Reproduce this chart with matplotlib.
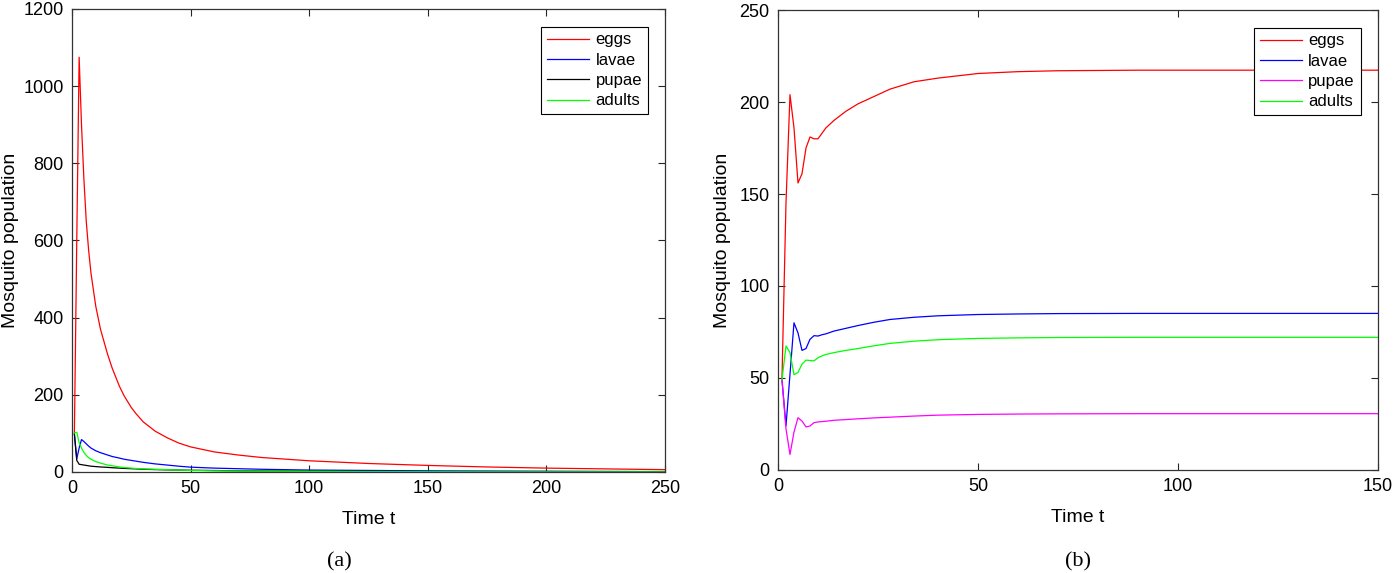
import matplotlib.pyplot as plt

plt.rcParams['font.family'] = ['Liberation Sans', 'DejaVu Sans']

# (a) population over 250 days
t_a = [1, 2, 3, 4, 5, 6, 7, 8, 10, 12, 15, 17, 20, 22, 25, 27, 30, 35, 40, 45, 50, 60, 70, 80, 100, 125, 150, 175, 200, 225, 250]
eggs_a = [100, 600, 1075, 900, 760, 650, 575, 515, 430, 370, 305, 268, 222, 197, 167, 151, 130, 106, 89, 75, 65, 52, 44, 37.5, 29, 22, 17, 13, 10, 8, 6]
lavae_a = [98, 34, 62, 84, 79, 73, 67, 62, 55, 50, 44, 40, 36, 33, 30, 28, 25, 21, 18, 15, 12.5, 10, 8.5, 7, 5, 4, 3, 2.5, 2, 1.5, 1]
pupae_a = [98, 30, 20, 19, 18, 17, 16, 15, 14, 13, 12, 11, 10, 9.3, 8.5, 8, 7, 6.2, 5.5, 5, 4.5, 3.8, 3, 2.6, 2, 1.5, 1, 0.8, 0.6, 0.5, 0.4]
adults_a = [101, 103, 76, 62, 51, 43, 37, 33, 27, 23, 18, 16, 13, 11.5, 10, 9, 8, 7, 6, 5, 4, 3, 2.5, 2, 1.5, 1, 0.8, 0.6, 0.5, 0.4, 0.3]

# (b) population over 150 days
t_b = [1, 2, 3, 4, 5, 6, 7, 8, 9, 10, 11, 12, 14, 17, 20, 24, 28, 34, 40, 50, 60, 70, 90, 110, 150]
eggs_b = [50, 145, 204, 186, 156, 161, 175, 181, 180, 180, 183, 186, 190, 195, 199, 203, 207, 211, 213, 215.5, 216.5, 217, 217.3, 217.3, 217.3]
lavae_b = [49, 24, 52, 80, 74.5, 65, 66, 71, 73, 72.8, 73.5, 74, 75.5, 77, 78.5, 80.3, 81.8, 83, 83.8, 84.5, 84.8, 85, 85.1, 85.1, 85.1]
pupae_b = [49, 22.4, 8.4, 20.6, 28.4, 26.6, 23.4, 23.9, 25.7, 26.1, 26.3, 26.5, 27, 27.4, 27.8, 28.3, 28.7, 29.3, 29.8, 30.2, 30.4, 30.5, 30.6, 30.6, 30.6]
adults_b = [49, 67.4, 63.8, 51.8, 53, 57.5, 59.7, 59.5, 59.3, 61, 62, 62.8, 63.8, 65, 66, 67.5, 68.8, 70, 70.8, 71.5, 71.8, 72, 72.1, 72.1, 72.1]

fig = plt.figure(figsize=(13.93, 5.73), dpi=100)
ax1 = fig.add_axes([0.0517, 0.1763, 0.4257, 0.808])
ax2 = fig.add_axes([0.5585, 0.1798, 0.4307, 0.8027])

lw = 0.9
ax1.plot(t_a, eggs_a, color='#ff0000', lw=lw, label='eggs')
ax1.plot(t_a, lavae_a, color='#0000ff', lw=lw, label='lavae')
ax1.plot(t_a, pupae_a, color='black', lw=lw, label='pupae')
ax1.plot(t_a, adults_a, color='#00ff00', lw=lw, label='adults')
ax1.set_xlim(0, 250)
ax1.set_ylim(0, 1200)
ax1.set_xticks([0, 50, 100, 150, 200, 250])
ax1.set_yticks([0, 200, 400, 600, 800, 1000, 1200])

ax2.plot(t_b, eggs_b, color='#ff0000', lw=lw, label='eggs')
ax2.plot(t_b, lavae_b, color='#0000ff', lw=lw, label='lavae')
ax2.plot(t_b, pupae_b, color='#ff00ff', lw=lw, label='pupae')
ax2.plot(t_b, adults_b, color='#00ff00', lw=lw, label='adults')
ax2.set_xlim(0, 150)
ax2.set_ylim(0, 250)
ax2.set_xticks([0, 50, 100, 150])
ax2.set_yticks([0, 50, 100, 150, 200, 250])

for ax, ylx in ((ax1, -0.103), (ax2, -0.093)):
    ax.tick_params(direction='in', top=True, right=True, length=5, width=0.8,
                   labelsize=13, colors='0.15', labelcolor='black', pad=6)
    for s in ax.spines.values():
        s.set_color('0.2')
        s.set_linewidth(0.9)
    ax.set_xlabel('Time t', fontsize=14, labelpad=10)
    ax.set_ylabel('Mosquito population', fontsize=14, va='center')
    ax.yaxis.set_label_coords(ylx, 0.5)
    leg = ax.legend(loc='upper right', bbox_to_anchor=(0.971, 0.962), fontsize=12,
                    fancybox=False, framealpha=1, edgecolor='black',
                    handlelength=2.5, handletextpad=0.4, borderpad=0.35,
                    labelspacing=0.32, borderaxespad=0)
    leg.get_frame().set_linewidth(0.8)

fig.text(0.2437, 0.019, '(a)', fontsize=16, family='Liberation Serif', ha='center', va='center')
fig.text(0.7738, 0.019, '(b)', fontsize=16, family='Liberation Serif', ha='center', va='center')

plt.savefig('out.png', dpi=100)
